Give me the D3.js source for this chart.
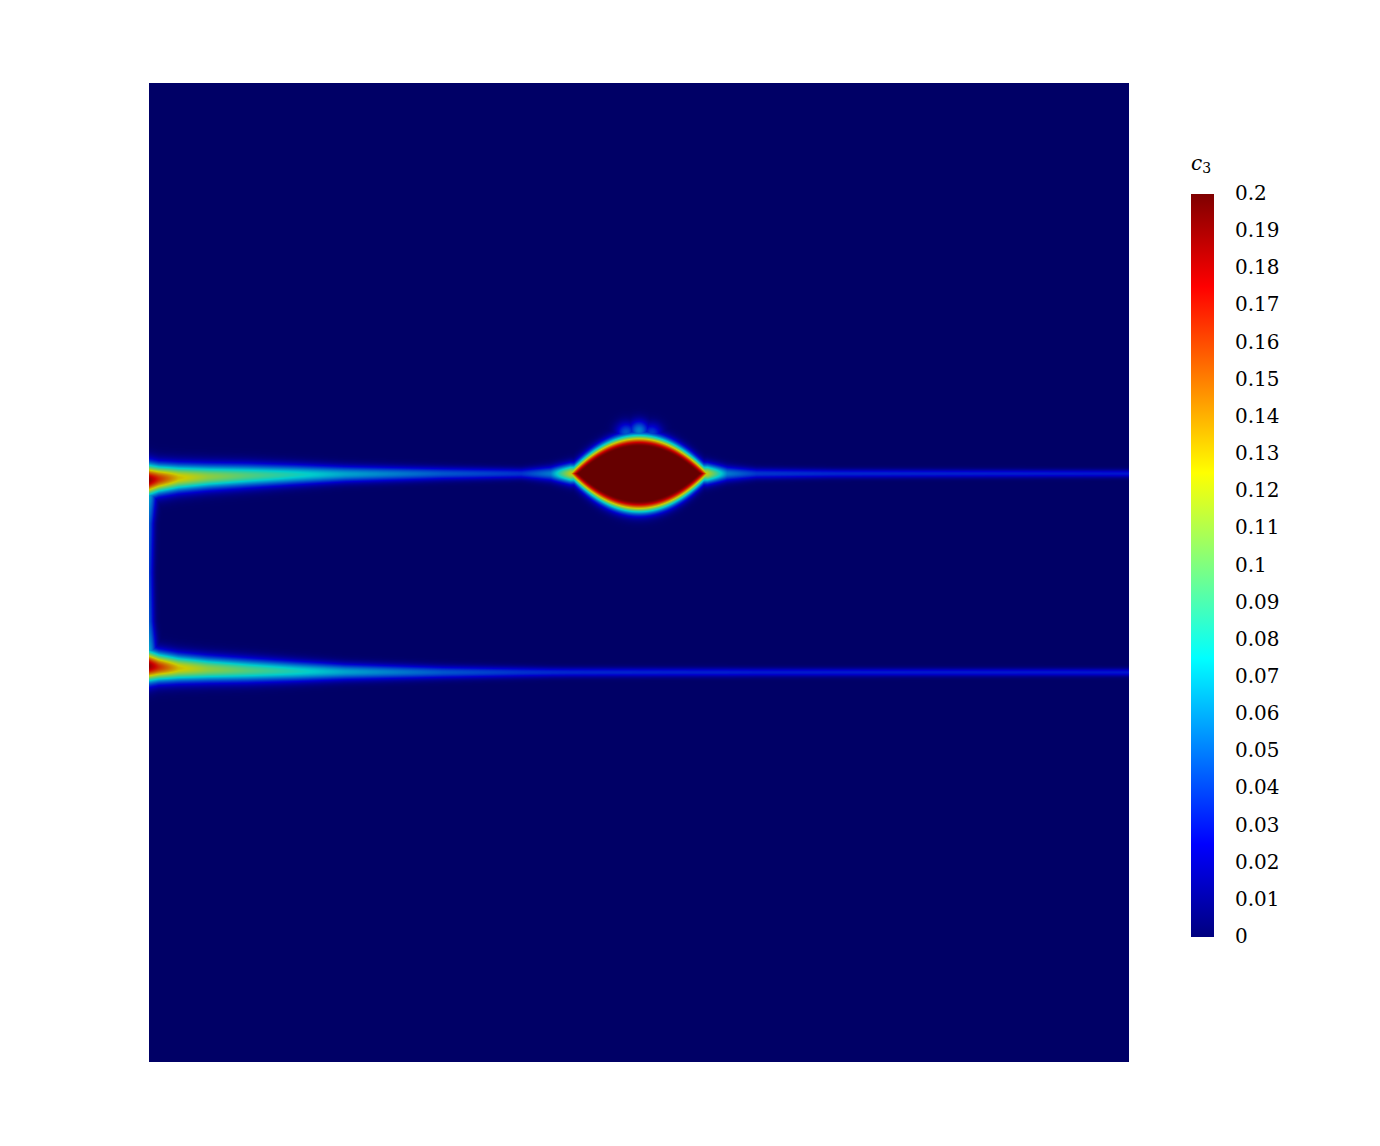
<!DOCTYPE html>
<html>
<head>
<meta charset="utf-8">
<script src="https://cdn.jsdelivr.net/npm/d3@7"></script>
<style>
  body { margin: 0; background: #fff; }
  svg { display: block; }
</style>
</head>
<body>
<svg id="chart"></svg>
<script>
// colour map (jet), positions as fraction of the colour range
const jetStops = [0, 0.125, 0.375, 0.625, 0.875, 1];
const jetColors = ['#00007f', '#0000ff', '#00ffff', '#ffff00', '#ff0000', '#7f0000'];
const colorMin = 0;
const colorMax = 0.2;
const tickValues = [0, 0.01, 0.02, 0.03, 0.04, 0.05, 0.06, 0.07, 0.08, 0.09, 0.1,
  0.11, 0.12, 0.13, 0.14, 0.15, 0.16, 0.17, 0.18, 0.19, 0.2];
const tickLabels = ['0', '0.01', '0.02', '0.03', '0.04', '0.05', '0.06', '0.07', '0.08', '0.09', '0.1',
  '0.11', '0.12', '0.13', '0.14', '0.15', '0.16', '0.17', '0.18', '0.19', '0.2'];

// field features, in domain units (x and y from 0 to 1)
const lineY = [0.601, 0.398];
const knotX = [0, 0.01, 0.03, 0.06, 0.1, 0.15, 0.2, 0.3, 0.38, 0.41, 0.43, 0.57, 0.59, 0.62, 0.7, 1];
const upperPeak = [0.19, 0.165, 0.13, 0.11, 0.095, 0.08, 0.065, 0.046, 0.037, 0.055, 0.12, 0.12, 0.055, 0.038, 0.034, 0.03];
const lowerPeak = [0.19, 0.165, 0.13, 0.11, 0.095, 0.08, 0.065, 0.046, 0.037, 0.035, 0.034, 0.032, 0.032, 0.031, 0.031, 0.03];
const upperSpread = [0.011, 0.0098, 0.0092, 0.0086, 0.008, 0.0069, 0.0057, 0.0045, 0.0038, 0.0052, 0.0066, 0.0066, 0.0052, 0.0038, 0.0032, 0.0028];
const lowerSpread = [0.011, 0.0098, 0.0092, 0.0086, 0.008, 0.0069, 0.0057, 0.0045, 0.0038, 0.0035, 0.0034, 0.0032, 0.0032, 0.0031, 0.003, 0.0028];
const bandShift = [0.0065, 0.0055, 0.0043, 0.0032, 0.0021, 0.0011, 0.0005, 0, 0, 0, 0, 0, 0, 0, 0, 0];

// vertical streak on the left boundary, between the two lines
const edgeKnotY = [0.398, 0.42, 0.45, 0.5, 0.55, 0.58, 0.601];
const edgePeak = [0.1, 0.065, 0.045, 0.038, 0.045, 0.065, 0.1];
const edgeSpread = [0.008, 0.0055, 0.0038, 0.0034, 0.0038, 0.0055, 0.008];

// lens shaped inclusion on the upper line
const blobCenter = [0.5, 0.601];
const blobHalfSize = [0.061, 0.0276];
const blobValue = 0.2;
const blobSpread = 0.0082;

// faint fuzz on top of the inclusion halo
const spotX = [0.487, 0.5, 0.513];
const spotY = [0.643, 0.645, 0.642];
const spotValue = [0.045, 0.055, 0.04];
const spotSpread = 0.0075;

const W = 1380, H = 1146;
const plot = { left: 149, right: 1129, top: 83, bottom: 1062 };
const shade = 0.8;

const svg = d3.select('#chart').attr('width', W).attr('height', H);

const xScale = d3.scaleLinear().domain([0, 1]).range([plot.left, plot.right]);
const yScale = d3.scaleLinear().domain([0, 1]).range([plot.bottom, plot.top]);

const colorScale = d3.scaleLinear()
  .domain(jetStops.map(s => colorMin + s * (colorMax - colorMin)))
  .range(jetColors)
  .interpolate(d3.interpolateRgb)
  .clamp(true);

// lookup table for the field colours (lit surface -> a bit darker)
const lut = d3.range(512).map(i => {
  const c = d3.rgb(colorScale(colorMin + (i / 511) * (colorMax - colorMin)));
  return [c.r * shade, c.g * shade, c.b * shade];
});

const upPeakAt = d3.scaleLinear().domain(knotX).range(upperPeak).clamp(true);
const loPeakAt = d3.scaleLinear().domain(knotX).range(lowerPeak).clamp(true);
const upSpreadAt = d3.scaleLinear().domain(knotX).range(upperSpread).clamp(true);
const loSpreadAt = d3.scaleLinear().domain(knotX).range(lowerSpread).clamp(true);
const shiftAt = d3.scaleLinear().domain(knotX).range(bandShift).clamp(true);
const edgePeakAt = d3.scaleLinear().domain(edgeKnotY).range(edgePeak).clamp(true);
const edgeSpreadAt = d3.scaleLinear().domain(edgeKnotY).range(edgeSpread).clamp(true);

const pw = Math.round(plot.right - plot.left);
const ph = Math.round(plot.bottom - plot.top);
const canvas = d3.create('canvas').attr('width', pw).attr('height', ph).node();
const ctx = canvas.getContext('2d');
const img = ctx.createImageData(pw, ph);

const gauss = (d, s) => Math.exp(-0.5 * (d / s) * (d / s));

for (let i = 0; i < pw; i++) {
  const x = xScale.invert(plot.left + i + 0.5);
  const up = upPeakAt(x), lo = loPeakAt(x);
  const us = upSpreadAt(x), ls = loSpreadAt(x);
  const sh = shiftAt(x);
  const yUp = lineY[0] - sh, yLo = lineY[1] + sh;
  const bx = (x - blobCenter[0]) / blobHalfSize[0];
  for (let j = 0; j < ph; j++) {
    const y = yScale.invert(plot.top + j + 0.5);
    let v = Math.max(up * gauss(y - yUp, us), lo * gauss(y - yLo, ls));
    if (y > lineY[1] && y < lineY[0]) {
      v = Math.max(v, edgePeakAt(y) * gauss(x, edgeSpreadAt(y)));
    }
    const f = Math.abs(y - blobCenter[1]) / blobHalfSize[1] + bx * bx;
    if (f <= 1) v = Math.max(v, blobValue);
    else v = Math.max(v, blobValue * gauss((f - 1) * blobHalfSize[1], blobSpread));
    for (let k = 0; k < spotX.length; k++) {
      const dx = x - spotX[k], dy = y - spotY[k];
      v = Math.max(v, spotValue[k] * gauss(Math.sqrt(dx * dx + dy * dy), spotSpread));
    }
    const t = Math.max(0, Math.min(1, (v - colorMin) / (colorMax - colorMin)));
    const c = lut[Math.round(t * 511)];
    const p = (j * pw + i) * 4;
    img.data[p] = c[0];
    img.data[p + 1] = c[1];
    img.data[p + 2] = c[2];
    img.data[p + 3] = 255;
  }
}
ctx.putImageData(img, 0, 0);

svg.append('image')
  .attr('x', plot.left)
  .attr('y', plot.top)
  .attr('width', pw)
  .attr('height', ph)
  .attr('preserveAspectRatio', 'none')
  .attr('href', canvas.toDataURL());

// colour bar
const bar = { x: 1191, width: 23, top: 194, bottom: 937 };
const barScale = d3.scaleLinear().domain([colorMin, colorMax]).range([bar.bottom, bar.top]);

const grad = svg.append('defs').append('linearGradient')
  .attr('id', 'jet')
  .attr('x1', 0).attr('y1', 1).attr('x2', 0).attr('y2', 0);
grad.selectAll('stop')
  .data(jetStops)
  .enter()
  .append('stop')
  .attr('offset', d => d)
  .attr('stop-color', (d, i) => jetColors[i]);

svg.append('rect')
  .attr('x', bar.x)
  .attr('y', bar.top)
  .attr('width', bar.width)
  .attr('height', bar.bottom - bar.top)
  .attr('fill', 'url(#jet)');

svg.selectAll('text.tick')
  .data(tickValues)
  .enter()
  .append('text')
  .attr('class', 'tick')
  .attr('x', 1235)
  .attr('y', d => barScale(d) - 1)
  .attr('dy', '0.35em')
  .style('font-family', '"DejaVu Serif", serif')
  .style('font-size', '20px')
  .attr('fill', '#000')
  .text((d, i) => tickLabels[i]);

const title = svg.append('text')
  .attr('x', 1191)
  .attr('y', 170)
  .style('font-family', '"DejaVu Serif", serif')
  .attr('fill', '#000');
title.append('tspan').style('font-style', 'italic').style('font-size', '20px').text('c');
title.append('tspan').attr('dy', 3).style('font-size', '14px').text('3');
</script>
</body>
</html>
